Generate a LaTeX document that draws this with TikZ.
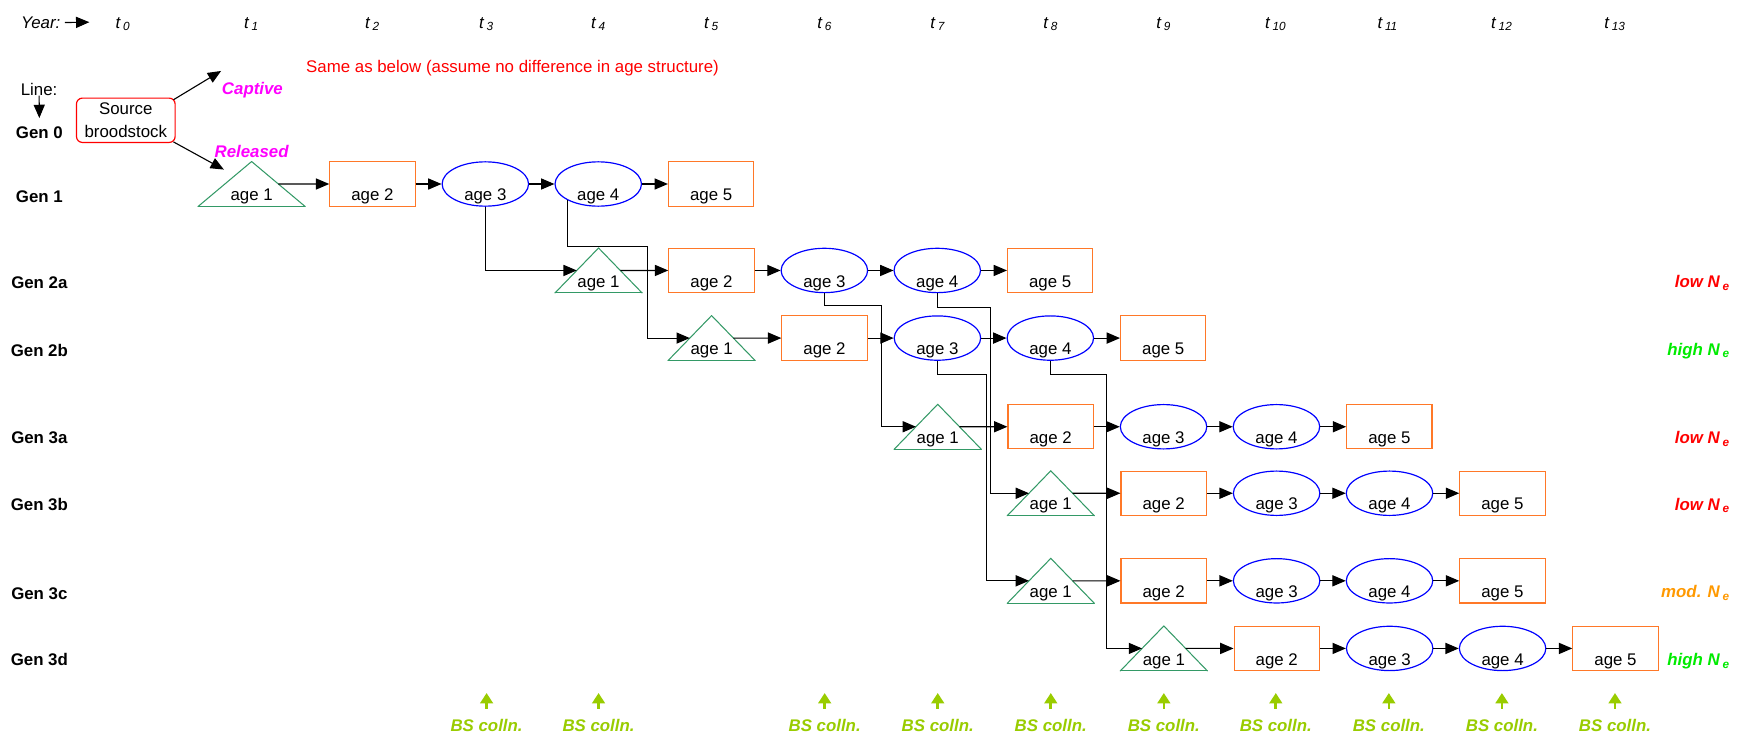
\documentclass[tikz,border=0pt]{standalone}
\usepackage{fontspec}
\setmainfont{Liberation Sans}
\usetikzlibrary{arrows.meta,positioning,calc,shapes.geometric}

\definecolor{trigreen}{RGB}{51,153,102}
\definecolor{boxorange}{RGB}{255,120,40}
\definecolor{ellblue}{RGB}{0,0,255}
\definecolor{bsgreen}{RGB}{153,204,0}
\definecolor{modorange}{RGB}{255,153,0}
\definecolor{highgreen}{RGB}{0,235,0}
\definecolor{relmagenta}{RGB}{255,0,255}

\newcommand{\agetext}[1]{\raisebox{-11.25pt}[0pt][0pt]{#1}}

\begin{document}
\begin{tikzpicture}[
    x=0.75pt, y=-0.75pt,
    node distance=76.4pt,
    font=\fontsize{11.4}{13.5}\selectfont,
    age/.style={inner sep=0pt, minimum width=57.75pt, minimum height=30pt},
    box/.style={age, draw=boxorange, line width=0.75pt},
    ell/.style={age, ellipse, draw=ellblue, line width=0.8pt, minimum width=58.5pt},
    triline/.style={draw=trigreen, line width=0.7pt, line cap=round},
    tri/.style={age, minimum width=58.5pt, append after command={
        (\tikzlastnode.south west) edge[triline] (\tikzlastnode.north)
        (\tikzlastnode.north) edge[triline] (\tikzlastnode.south east)
        (\tikzlastnode.south east) edge[triline] (\tikzlastnode.south west)}},
    lbl/.style={inner sep=0pt, anchor=base},
    yr/.style={lbl, font=\fontsize{11.4}{13.5}\selectfont\itshape},
    gen/.style={lbl, font=\fontsize{11.4}{13.5}\selectfont\bfseries},
    ne/.style={lbl, anchor=base east, font=\fontsize{11.4}{13.5}\selectfont\bfseries\itshape},
    bs/.style={lbl, text=bsgreen, font=\fontsize{11.4}{13.5}\selectfont\bfseries\itshape},
    arrow/.style={-{Triangle[length=9pt,width=7.5pt]}, line width=0.75pt},
    bsarrow/.style={-{Triangle[length=7pt,width=8.5pt]}, draw=bsgreen, line width=1.8pt}
]
\path[use as bounding box, fill=white] (0,0) rectangle (1568,664);

\node[yr, anchor=base west] (year) at (18.7,25.5) {Year:};
\coordinate (yearend) at (80.6,20);
\node[yr] (t0) at (111,25.5) {t\,\textsubscript{0}};
\node[yr] (t1) at (227,25.5) {t\,\textsubscript{1}};
\node[yr] (t2) at (336,25.5) {t\,\textsubscript{2}};
\node[yr] (t3) at (439,25.5) {t\,\textsubscript{3}};
\node[yr] (t4) at (540,25.5) {t\,\textsubscript{4}};
\node[yr] (t5) at (642,25.5) {t\,\textsubscript{5}};
\node[yr] (t6) at (744,25.5) {t\,\textsubscript{6}};
\node[yr] (t7) at (846,25.5) {t\,\textsubscript{7}};
\node[yr] (t8) at (948,25.5) {t\,\textsubscript{8}};
\node[yr] (t9) at (1050,25.5) {t\,\textsubscript{9}};
\node[yr] (t10) at (1151,25.5) {t\,\textsubscript{10}};
\node[yr] (t11) at (1252,25.5) {t\,\textsubscript{11}};
\node[yr] (t12) at (1355,25.5) {t\,\textsubscript{12}};
\node[yr] (t13) at (1457,25.5) {t\,\textsubscript{13}};

\node[lbl, anchor=base west, text=red] (same) at (276,65.5) {Same as below (assume no difference in age structure)};
\node[lbl] (line) at (35.3,85.9) {Line:};
\coordinate (lineend) at (35.5,106.5);
\node[draw=red, rounded corners=4pt, line width=0.8pt, minimum width=66.75pt, minimum height=30pt, inner sep=0pt, align=center, font=\fontsize{11.4}{15}\selectfont] (src) at (113.5,108.5) {Source\\broodstock};
\node[lbl, anchor=base west, text=relmagenta, font=\fontsize{11.4}{13.5}\selectfont\bfseries\itshape] (capt) at (200,85.5) {Captive};
\coordinate (captend) at (199.5,64);
\node[lbl, text=relmagenta, font=\fontsize{11.4}{13.5}\selectfont\bfseries\itshape] (rel) at (227,142.5) {Released};
\coordinate (relend) at (202,153);

\node[gen] (gen0) at (35.5,124.5) {Gen 0};
\node[gen] (gen1) at (35.5,182.5) {Gen 1};
\node[gen] (gen2a) at (35.5,260.5) {Gen 2a};
\node[gen] (gen2b) at (35.5,321.5) {Gen 2b};
\node[gen] (gen3a) at (35.5,400.5) {Gen 3a};
\node[gen] (gen3b) at (35.5,460.5) {Gen 3b};
\node[gen] (gen3c) at (35.5,540.5) {Gen 3c};
\node[gen] (gen3d) at (35.5,600.5) {Gen 3d};

\node[tri, minimum width=72pt] (g1-1) at (227,166) {\agetext{age 1}};
\node[box] (g1-2) at (336,166) {\agetext{age 2}};
\node[ell] (g1-3) [right of=g1-2] {\agetext{age 3}};
\node[ell] (g1-4) [right of=g1-3] {\agetext{age 4}};
\node[box] (g1-5) [right of=g1-4] {\agetext{age 5}};

\node[tri] (g2a-1) at (540,244) {\agetext{age 1}};
\node[box] (g2a-2) [right of=g2a-1] {\agetext{age 2}};
\node[ell] (g2a-3) [right of=g2a-2] {\agetext{age 3}};
\node[ell] (g2a-4) [right of=g2a-3] {\agetext{age 4}};
\node[box] (g2a-5) [right of=g2a-4] {\agetext{age 5}};

\node[tri] (g2b-1) at (642,305) {\agetext{age 1}};
\node[box] (g2b-2) [right of=g2b-1] {\agetext{age 2}};
\node[ell] (g2b-3) [right of=g2b-2] {\agetext{age 3}};
\node[ell] (g2b-4) [right of=g2b-3] {\agetext{age 4}};
\node[box] (g2b-5) [right of=g2b-4] {\agetext{age 5}};

\node[tri] (g3a-1) at (846,385) {\agetext{age 1}};
\node[box] (g3a-2) [right of=g3a-1] {\agetext{age 2}};
\node[ell] (g3a-3) [right of=g3a-2] {\agetext{age 3}};
\node[ell] (g3a-4) [right of=g3a-3] {\agetext{age 4}};
\node[box] (g3a-5) [right of=g3a-4] {\agetext{age 5}};

\node[tri] (g3b-1) at (948,445) {\agetext{age 1}};
\node[box] (g3b-2) [right of=g3b-1] {\agetext{age 2}};
\node[ell] (g3b-3) [right of=g3b-2] {\agetext{age 3}};
\node[ell] (g3b-4) [right of=g3b-3] {\agetext{age 4}};
\node[box] (g3b-5) [right of=g3b-4] {\agetext{age 5}};

\node[tri] (g3c-1) at (948,524) {\agetext{age 1}};
\node[box] (g3c-2) [right of=g3c-1] {\agetext{age 2}};
\node[ell] (g3c-3) [right of=g3c-2] {\agetext{age 3}};
\node[ell] (g3c-4) [right of=g3c-3] {\agetext{age 4}};
\node[box] (g3c-5) [right of=g3c-4] {\agetext{age 5}};

\node[tri] (g3d-1) at (1050,585) {\agetext{age 1}};
\node[box] (g3d-2) [right of=g3d-1] {\agetext{age 2}};
\node[ell] (g3d-3) [right of=g3d-2] {\agetext{age 3}};
\node[ell] (g3d-4) [right of=g3d-3] {\agetext{age 4}};
\node[box] (g3d-5) [right of=g3d-4] {\agetext{age 5}};

\node[ne, text=red] (ne2a) at (1561,259.5) {low N\,\textsubscript{e}};
\node[ne, text=highgreen] (ne2b) at (1561,320.5) {high N\,\textsubscript{e}};
\node[ne, text=red] (ne3a) at (1561,400.5) {low N\,\textsubscript{e}};
\node[ne, text=red] (ne3b) at (1561,460.5) {low N\,\textsubscript{e}};
\node[ne, text=modorange] (ne3c) at (1561,539.5) {mod. N\,\textsubscript{e}};
\node[ne, text=highgreen] (ne3d) at (1561,600.5) {high N\,\textsubscript{e}};

\node[bs] (bs3) at (439,659.5) {BS colln.};
\node[bs] (bs4) at (540,659.5) {BS colln.};
\node[bs] (bs6) at (744,659.5) {BS colln.};
\node[bs] (bs7) at (846,659.5) {BS colln.};
\node[bs] (bs8) at (948,659.5) {BS colln.};
\node[bs] (bs9) at (1050,659.5) {BS colln.};
\node[bs] (bs10) at (1151,659.5) {BS colln.};
\node[bs] (bs11) at (1253,659.5) {BS colln.};
\node[bs] (bs12) at (1355,659.5) {BS colln.};
\node[bs] (bs13) at (1457,659.5) {BS colln.};

\draw[arrow] ([xshift=2.8pt]year.east) -- (yearend);
\draw[arrow] (line.south) -- (lineend);
\draw[arrow] ($(src.north east)+(-2,2)$) -- (captend);
\draw[arrow] ($(src.south east)+(-2,-1)$) -- (relend);

\draw[arrow] ($(g1-1.north)!.5!(g1-1.south east)$) -- (g1-2);
\draw[arrow] (g1-2) -- (g1-3);
\draw[arrow] (g1-3) -- (g1-4);
\draw[arrow] (g1-4) -- (g1-5);
\draw[arrow] ($(g2a-1.north)!.5!(g2a-1.south east)$) -- (g2a-2);
\draw[arrow] (g2a-2) -- (g2a-3);
\draw[arrow] (g2a-3) -- (g2a-4);
\draw[arrow] (g2a-4) -- (g2a-5);
\draw[arrow] ($(g2b-1.north)!.5!(g2b-1.south east)$) -- (g2b-2);
\draw[arrow] (g2b-2) -- (g2b-3);
\draw[arrow] (g2b-3) -- (g2b-4);
\draw[arrow] (g2b-4) -- (g2b-5);
\draw[arrow] ($(g3a-1.north)!.5!(g3a-1.south east)$) -- (g3a-2);
\draw[arrow] (g3a-2) -- (g3a-3);
\draw[arrow] (g3a-3) -- (g3a-4);
\draw[arrow] (g3a-4) -- (g3a-5);
\draw[arrow] ($(g3b-1.north)!.5!(g3b-1.south east)$) -- (g3b-2);
\draw[arrow] (g3b-2) -- (g3b-3);
\draw[arrow] (g3b-3) -- (g3b-4);
\draw[arrow] (g3b-4) -- (g3b-5);
\draw[arrow] ($(g3c-1.north)!.5!(g3c-1.south east)$) -- (g3c-2);
\draw[arrow] (g3c-2) -- (g3c-3);
\draw[arrow] (g3c-3) -- (g3c-4);
\draw[arrow] (g3c-4) -- (g3c-5);
\draw[arrow] ($(g3d-1.north)!.5!(g3d-1.south east)$) -- (g3d-2);
\draw[arrow] (g3d-2) -- (g3d-3);
\draw[arrow] (g3d-3) -- (g3d-4);
\draw[arrow] (g3d-4) -- (g3d-5);

\draw[arrow] (g1-3.south) |- ($(g2a-1.south west)!.5!(g2a-1.north)$);
\draw[arrow] (g1-4.south west) |- (584,222) |- ($(g2b-1.south west)!.5!(g2b-1.north)$);
\draw[arrow] (g2a-3.south) |- (795,276) |- ($(g3a-1.south west)!.5!(g3a-1.north)$);
\draw[arrow] (g2a-4.south) |- (894,277.5) |- ($(g3b-1.south west)!.5!(g3b-1.north)$);
\draw[arrow] (g2b-3.south) |- (890,338) |- ($(g3c-1.south west)!.5!(g3c-1.north)$);
\draw[arrow] (g2b-4.south) |- (998.5,338) |- ($(g3d-1.south west)!.5!(g3d-1.north)$);

\draw[bsarrow] ([yshift=6.75pt]bs3.north) -- ++(0,-14);
\draw[bsarrow] ([yshift=6.75pt]bs4.north) -- ++(0,-14);
\draw[bsarrow] ([yshift=6.75pt]bs6.north) -- ++(0,-14);
\draw[bsarrow] ([yshift=6.75pt]bs7.north) -- ++(0,-14);
\draw[bsarrow] ([yshift=6.75pt]bs8.north) -- ++(0,-14);
\draw[bsarrow] ([yshift=6.75pt]bs9.north) -- ++(0,-14);
\draw[bsarrow] ([yshift=6.75pt]bs10.north) -- ++(0,-14);
\draw[bsarrow] ([yshift=6.75pt]bs11.north) -- ++(0,-14);
\draw[bsarrow] ([yshift=6.75pt]bs12.north) -- ++(0,-14);
\draw[bsarrow] ([yshift=6.75pt]bs13.north) -- ++(0,-14);

\end{tikzpicture}
\end{document}
